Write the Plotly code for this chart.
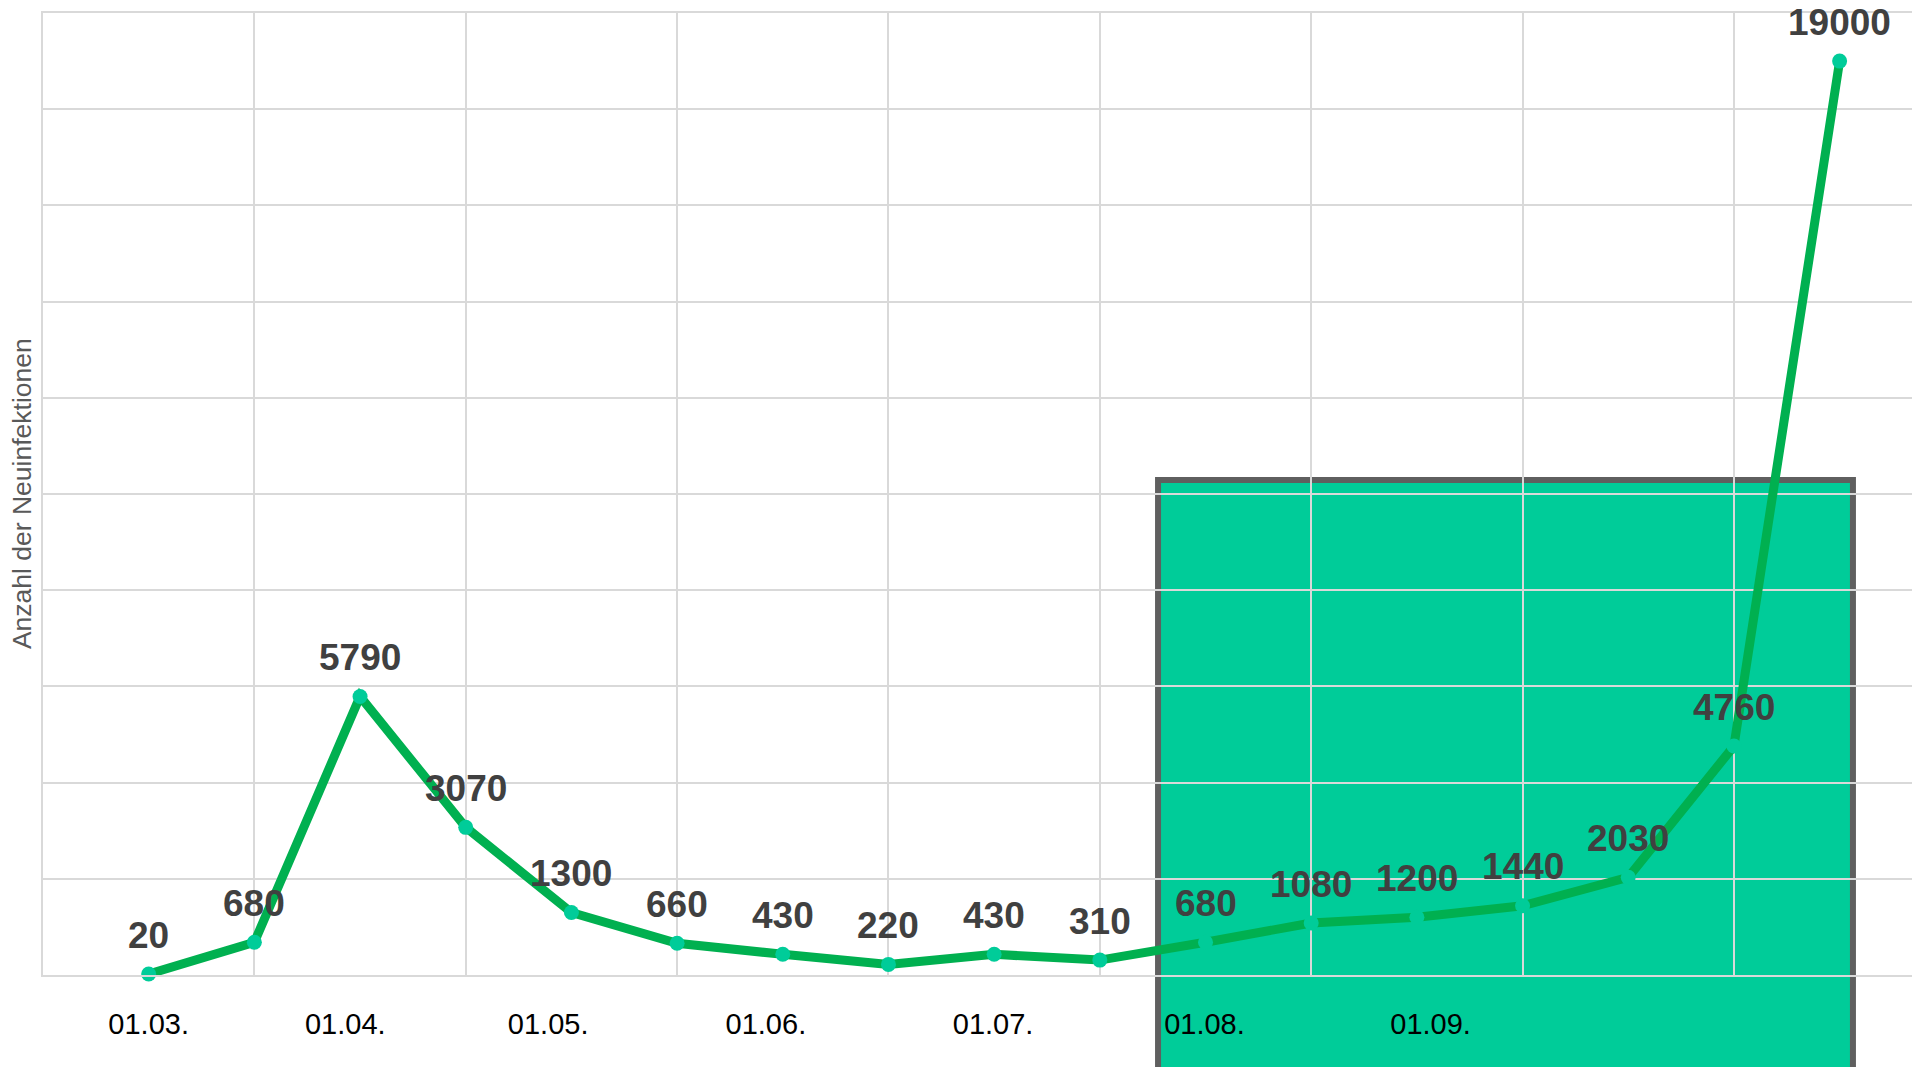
import plotly.graph_objects as go

# ---- data ----
point_index = list(range(17))
new_infections = [20, 680, 5790, 3070, 1300, 660, 430, 220, 430, 310,
                  680, 1080, 1200, 1440, 2030, 4760, 19000]
tick_positions = [0, 1.86, 3.78, 5.84, 7.99, 9.99, 12.13]
tick_labels = ["01.03.", "01.04.", "01.05.", "01.06.", "01.07.", "01.08.", "01.09."]
y_title = "Anzahl der Neuinfektionen"

LINE_COLOR = "#00B050"
MARKER_COLOR = "#00CC99"
RECT_FILL = "#00CC99"
RECT_LINE = "#5F5F5F"
GRID = "#D9D9D9"
LABEL_COLOR = "#404040"

fig = go.Figure()
fig.add_trace(go.Scatter(
    x=point_index, y=new_infections, mode="lines+markers",
    line=dict(color=LINE_COLOR, width=9),
    marker=dict(color=MARKER_COLOR, size=15),
    hoverinfo="skip", showlegend=False, cliponaxis=False,
))

annotations = []
for xi, v in zip(point_index, new_infections):
    annotations.append(dict(
        x=xi, y=v, xref="x", yref="y", text=str(v), showarrow=False,
        yanchor="middle", xanchor="center", yshift=39,
        font=dict(family="Liberation Sans", size=37, color=LABEL_COLOR, weight="bold"),
    ))

annotations.append(dict(
    x=-0.0112, y=0.5, xref="paper", yref="paper", text=y_title, showarrow=False,
    textangle=-90, xanchor="center", yanchor="middle",
    font=dict(family="Liberation Sans", size=26.5, color="#595959"),
))

fig.update_layout(
    width=1912, height=1067,
    margin=dict(l=43, r=0, t=13, b=92),
    paper_bgcolor="white", plot_bgcolor="white",
    annotations=annotations,
    shapes=[dict(
        type="rect", xref="paper", yref="paper",
        x0=0.5966, x1=0.9684, y0=-0.3, y1=0.5146,
        fillcolor=RECT_FILL, line=dict(color=RECT_LINE, width=6), layer="below",
    )],
    xaxis=dict(
        range=[-1, 16.685],
        tickmode="array", tickvals=tick_positions, ticktext=tick_labels,
        showgrid=False, zeroline=False,
        ticks="outside", ticklen=22, tickcolor="rgba(0,0,0,0)",
        tickfont=dict(family="Liberation Sans", size=29, color="black"),
        showline=True, linecolor=GRID, linewidth=2, mirror=True,
        minor=dict(tickmode="linear", tick0=-1, dtick=2, showgrid=True,
                   gridcolor=GRID, gridwidth=2, ticks=""),
    ),
    yaxis=dict(
        range=[0, 20000], dtick=2000, tick0=0,
        showticklabels=False, showgrid=True, gridcolor=GRID, gridwidth=2,
        zeroline=False, showline=True, linecolor=GRID, linewidth=2,
    ),
)

fig.write_html("out.html")
